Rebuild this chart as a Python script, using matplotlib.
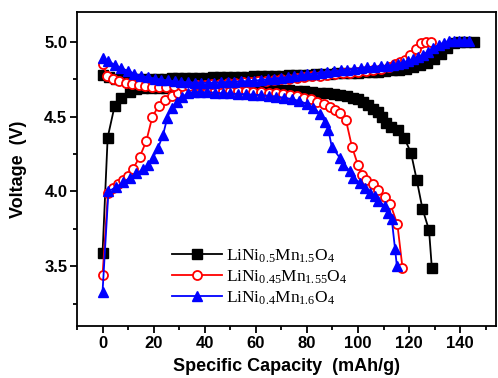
import matplotlib
matplotlib.use("Agg")
import matplotlib.pyplot as plt
from matplotlib.ticker import MultipleLocator

plt.rcParams['font.family'] = ['Liberation Sans', 'DejaVu Sans']
plt.rcParams['mathtext.fontset'] = 'custom'
plt.rcParams['mathtext.rm'] = 'Liberation Serif'
plt.rcParams['mathtext.it'] = 'Liberation Serif:italic'
plt.rcParams['mathtext.bf'] = 'Liberation Serif:bold'

labels = [r'$\mathrm{LiNi_{0.5}Mn_{1.5}O_4}$',
          r'$\mathrm{LiNi_{0.45}Mn_{1.55}O_4}$',
          r'$\mathrm{LiNi_{0.4}Mn_{1.6}O_4}$']

# LiNi0.5Mn1.5O4
black_a_x = [0, 2.0, 4.7, 7.3, 10.6, 13.2, 16, 19, 22, 25, 28, 31, 34, 37, 40, 43, 46, 49, 52, 55,
             58, 61, 64, 67, 70, 73, 76, 79, 82, 85, 88, 90.5, 93, 95.5, 98, 100, 102, 104, 106, 108,
             109.5, 111, 113, 115.5, 118, 120.7, 123, 125.2, 127.8, 128.9]
black_a_y = [3.59, 4.36, 4.57, 4.625, 4.665, 4.685, 4.69, 4.69, 4.69, 4.69, 4.69, 4.69, 4.69, 4.69,
             4.688, 4.687, 4.686, 4.685, 4.684, 4.683, 4.682, 4.68, 4.679, 4.678, 4.676, 4.675, 4.673,
             4.67, 4.666, 4.66, 4.655, 4.65, 4.642, 4.635, 4.625, 4.615, 4.60, 4.575, 4.55, 4.53,
             4.50, 4.46, 4.43, 4.41, 4.36, 4.26, 4.075, 3.885, 3.74, 3.485]
black_b_x = [0, 2.7, 5.4, 8.1, 10.8, 13.5, 16.2, 18.9, 21.6, 24.3, 27, 29.7, 32.4, 35.1, 37.8, 40.5,
             43.2, 45.9, 48.6, 51.3, 54, 56.7, 59.4, 62.1, 64.8, 67.5, 70.2, 72.9, 75.6, 78.3, 81,
             83.7, 86.4, 89.1, 91.8, 94.5, 97.2, 99.9, 102.6, 105.3, 108, 110.7, 113.4, 116.1, 118.8,
             121.5, 124.2, 126.9, 129.6, 132.3, 135, 137.4, 139.8, 142.3, 145.3]
black_b_y = [4.78, 4.765, 4.755, 4.75, 4.75, 4.75, 4.75, 4.752, 4.753, 4.755, 4.756, 4.757, 4.758,
             4.76, 4.76, 4.761, 4.762, 4.763, 4.764, 4.765, 4.766, 4.768, 4.77, 4.771, 4.772, 4.774,
             4.775, 4.777, 4.778, 4.78, 4.781, 4.783, 4.785, 4.787, 4.789, 4.79, 4.792, 4.794, 4.796,
             4.798, 4.80, 4.805, 4.81, 4.815, 4.822, 4.832, 4.845, 4.862, 4.885, 4.92, 4.96, 4.99,
             5.0, 5.0, 5.0]

# LiNi0.45Mn1.55O4
red_a_x = [0, 2.1, 4, 6, 8, 9.9, 11.9, 14.5, 17.1, 19.5, 22, 24.5, 27, 29.5, 32.2, 35, 38, 41, 44,
           47, 50, 53, 56, 59, 62, 65, 68, 70.5, 73.3, 76, 78.7, 81.4, 84, 86.5, 89, 91, 93, 95.3,
           97.6, 100, 101.6, 103.3, 105.8, 108, 110.4, 112.7, 115.4, 117.4]
red_a_y = [3.44, 3.99, 4.02, 4.05, 4.075, 4.10, 4.15, 4.23, 4.335, 4.50, 4.573, 4.61, 4.635, 4.655,
           4.668, 4.672, 4.675, 4.675, 4.675, 4.674, 4.673, 4.671, 4.669, 4.667, 4.664, 4.66, 4.656,
           4.652, 4.645, 4.636, 4.625, 4.615, 4.60, 4.585, 4.565, 4.547, 4.524, 4.475, 4.30, 4.175,
           4.113, 4.078, 4.047, 4.012, 3.962, 3.913, 3.78, 3.49]
red_b_x = [0, 1.9, 4.2, 6.6, 9.1, 11.6, 14.2, 16.8, 19.4, 22, 25, 28, 31, 34, 37, 40, 43, 46, 49,
           52, 55, 58, 61, 64, 67, 70, 73, 76, 79, 82, 85, 88, 91, 94, 97, 100, 103, 106, 109, 112,
           114.5, 116.5, 118.3, 120.3, 122.5, 124.6, 126.5, 128.5]
red_b_y = [4.85, 4.775, 4.752, 4.738, 4.728, 4.72, 4.713, 4.707, 4.70, 4.70, 4.70, 4.703, 4.705,
           4.708, 4.71, 4.713, 4.716, 4.72, 4.723, 4.726, 4.73, 4.733, 4.737, 4.741, 4.745, 4.75,
           4.755, 4.76, 4.765, 4.77, 4.775, 4.78, 4.785, 4.79, 4.795, 4.80, 4.805, 4.812, 4.82,
           4.835, 4.85, 4.865, 4.88, 4.913, 4.95, 4.99, 5.0, 5.0]

# LiNi0.4Mn1.6O4
blue_a_x = [0, 2.3, 5.4, 8, 10.6, 13.2, 15.8, 17.8, 19.7, 21.7, 23.7, 25.3, 27, 29, 31, 33.3, 35.6,
            38, 41, 44, 47, 50, 53, 56, 59, 62, 65, 68, 71, 74, 77, 80, 82.5, 85, 87, 88.4, 89.7,
            92.9, 94.2, 96.9, 98.2, 100.8, 102.7, 104.7, 106.7, 108, 110.6, 111.9, 113.2, 114.5,
            115.2]
blue_a_y = [3.33, 4.0, 4.03, 4.06, 4.09, 4.12, 4.147, 4.18, 4.224, 4.29, 4.38, 4.49, 4.56, 4.595,
            4.63, 4.655, 4.665, 4.665, 4.663, 4.66, 4.657, 4.655, 4.652, 4.65, 4.647, 4.644, 4.64,
            4.634, 4.627, 4.618, 4.605, 4.585, 4.56, 4.52, 4.465, 4.41, 4.30, 4.224, 4.18, 4.136,
            4.09, 4.058, 4.024, 3.99, 3.969, 3.935, 3.902, 3.858, 3.813, 3.613, 3.502]
blue_b_x = [0, 2.1, 4.7, 7.3, 9.9, 12.5, 15.2, 17.8, 20.4, 23, 25.6, 28.2, 30.8, 33.4, 36, 38.6,
            41.2, 43.8, 46.4, 49, 51.6, 54.2, 56.8, 59.4, 62, 64.6, 67.2, 69.8, 72.4, 75, 77.6, 80.2,
            82.8, 85.4, 88, 90.6, 93.2, 95.8, 98.4, 101, 103.6, 106.2, 108.8, 111.4, 113.8, 115.7,
            117.6, 119.6, 121.5, 123.5, 125.5, 127.5, 129.5, 131.5, 133.5, 135.5, 137.5, 139.5,
            141.5, 143.5]
blue_b_y = [4.895, 4.873, 4.847, 4.824, 4.807, 4.787, 4.773, 4.764, 4.755, 4.748, 4.742, 4.737,
            4.733, 4.73, 4.728, 4.727, 4.727, 4.728, 4.73, 4.732, 4.734, 4.736, 4.738, 4.741, 4.745,
            4.75, 4.755, 4.76, 4.765, 4.77, 4.777, 4.783, 4.788, 4.794, 4.80, 4.805, 4.81, 4.815,
            4.82, 4.825, 4.83, 4.834, 4.838, 4.842, 4.847, 4.852, 4.862, 4.872, 4.885, 4.90, 4.915,
            4.935, 4.96, 4.98, 4.995, 5.005, 5.005, 5.005, 5.005, 5.005]

series = [
    (black_a_x, black_a_y, black_b_x, black_b_y,
     dict(color='black', marker='s', mfc='black', mec='black', ms=6.5, mew=1.0)),
    (red_a_x, red_a_y, red_b_x, red_b_y,
     dict(color='red', marker='o', mfc='white', mec='red', ms=6.5, mew=1.3)),
    (blue_a_x, blue_a_y, blue_b_x, blue_b_y,
     dict(color='blue', marker='^', mfc='blue', mec='blue', ms=7.5, mew=1.0)),
]

fig = plt.figure(figsize=(4.98, 3.78), dpi=100)
ax = fig.add_axes([77/498, 1-326/378, (496-77)/498, (326-12)/378])

handles = []
for (ax_, ay_, bx_, by_, st), lab in zip(series, labels):
    h, = ax.plot(ax_, ay_, lw=1.3, label=lab, **st)
    ax.plot(bx_, by_, lw=1.3, **st)
    handles.append(h)

ax.set_xlim(-10, 154)
ax.set_ylim(3.1, 5.2)
ax.xaxis.set_major_locator(MultipleLocator(20))
ax.xaxis.set_minor_locator(MultipleLocator(10))
ax.yaxis.set_major_locator(MultipleLocator(0.5))
ax.yaxis.set_minor_locator(MultipleLocator(0.25))
ax.tick_params(which='major', direction='out', length=5, width=1.3, pad=2,
               top=False, right=False, labelsize=12)
ax.tick_params(which='minor', direction='out', length=3, width=1.3, top=False, right=False)
for lab in ax.get_xticklabels() + ax.get_yticklabels():
    lab.set_fontweight('bold')
for sp in ax.spines.values():
    sp.set_linewidth(1.3)

ax.set_xlabel('Specific Capacity  (mAh/g)', fontsize=13, fontweight='bold', labelpad=5)
ax.set_ylabel('Voltage  (V)', fontsize=13, fontweight='bold', labelpad=12)

leg = ax.legend(handles=handles, loc='center left', bbox_to_anchor=(0.227, 0.156),
                frameon=False, fontsize=12.5, handlelength=2.9, handletextpad=0.2,
                labelspacing=0.2, borderpad=0, borderaxespad=0)

fig.savefig('out.png', dpi=100)
